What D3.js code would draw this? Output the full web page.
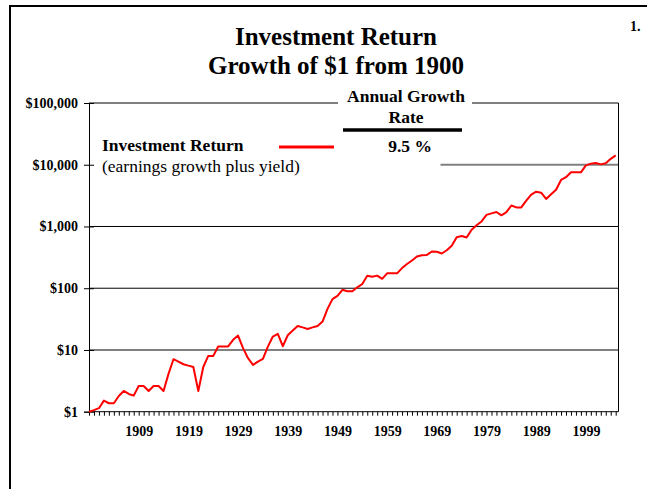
<!DOCTYPE html>
<html>
<head>
<meta charset="utf-8">
<script src="https://cdn.jsdelivr.net/npm/d3@7"></script>
<style>
  body { margin: 0; background: #fff; }
  svg { display: block; font-family: "Times New Roman", "Liberation Serif", serif; }
</style>
</head>
<body>
<svg id="chart" width="647" height="489"></svg>
<script>
// years 1899..2005, growth of $1
let years = d3.range(1899, 2006)
let values = [
  1.00, 1.06, 1.14, 1.51, 1.37, 1.37, 1.80, 2.17, 1.94, 1.82,
  2.61, 2.61, 2.17, 2.61, 2.61, 2.17, 4.1, 7.08, 6.47, 5.87,
  5.57, 5.31, 2.17, 5.3, 8.0, 8.0, 11.4, 11.4, 11.4, 14.6,
  17.1, 10.7, 7.35, 5.72, 6.47, 7.16, 11.3, 16.5, 18.2, 11.5,
  17.3, 20.6, 24.5, 23.2, 21.9, 23.2, 24.5, 28.8, 46.3, 66.5,
  75.3, 94.2, 89.1, 89.1, 103.5, 117, 159, 153, 160, 142,
  174, 174, 174, 212, 247, 281, 327, 342, 346, 393,
  389, 365, 412, 487, 670, 700, 664, 885, 1047, 1207,
  1540, 1629, 1715, 1517, 1703, 2188, 2037, 2037, 2617, 3275,
  3663, 3527, 2788, 3324, 3945, 5666, 6292, 7534, 7534, 7534,
  9747, 10420, 10690, 10140, 10570, 12470, 14200
]
let yTicks = [1, 10, 100, 1000, 10000, 100000]
let xLabels = [1909, 1919, 1929, 1939, 1949, 1959, 1969, 1979, 1989, 1999]
let seriesName = "Investment Return"
let seriesNote = "(earnings growth plus yield)"
let growthRate = "9.5 %"

let svg = d3.select("#chart")

let pLeft = 89, pRight = 618.5, pTop = 103, pBottom = 411.7

let x = d3.scalePoint()
  .domain(years)
  .range([pLeft, 615.7])

let y = d3.scaleLog()
  .domain([1, 100000])
  .range([pBottom, pTop])

// outer frame
svg.append("rect")
  .attr("x", 10).attr("y", 6)
  .attr("width", 700).attr("height", 600)
  .attr("fill", "none").attr("stroke", "#000").attr("stroke-width", 2)

svg.append("text").attr("x", 630).attr("y", 31)
  .attr("font-size", 14).attr("font-weight", "bold").text("1.")

// titles
svg.append("text").attr("x", 336).attr("y", 45).attr("text-anchor", "middle")
  .attr("font-size", 25).attr("font-weight", "bold").text("Investment Return")
svg.append("text").attr("x", 336).attr("y", 74).attr("text-anchor", "middle")
  .attr("font-size", 25).attr("font-weight", "bold").text("Growth of $1 from 1900")

// gridlines
let grid = svg.append("g")
grid.selectAll("line")
  .data([10, 100, 1000])
  .enter().append("line")
  .attr("x1", pLeft).attr("x2", pRight)
  .attr("y1", d => y(d)).attr("y2", d => y(d))
  .attr("stroke", d => d === 10 ? "#808080" : "#000")
  .attr("stroke-width", d => d === 10 ? 2 : 1)
grid.append("line")
  .attr("x1", 440.5).attr("x2", pRight)
  .attr("y1", y(10000)).attr("y2", y(10000))
  .attr("stroke", "#808080").attr("stroke-width", 2)

// top border broken by the legend header
grid.append("line").attr("x1", pLeft).attr("x2", 338).attr("y1", pTop).attr("y2", pTop).attr("stroke", "#000")
grid.append("line").attr("x1", 472).attr("x2", pRight).attr("y1", pTop).attr("y2", pTop).attr("stroke", "#000")
grid.append("line").attr("x1", pRight).attr("x2", pRight).attr("y1", pTop).attr("y2", pBottom).attr("stroke", "#000")

// y axis
let yAxis = svg.append("g")
  .attr("transform", `translate(${pLeft},0)`)
  .call(d3.axisLeft(y).tickValues(yTicks).tickSize(5).tickPadding(6).tickFormat(d3.format("$,")))
yAxis.select(".domain").attr("stroke", "#000")
yAxis.selectAll(".tick line").attr("x1", 5).attr("stroke", "#000")
yAxis.selectAll("text")
  .attr("font-size", 14).attr("font-weight", "bold")
  .attr("font-family", "'Times New Roman', 'Liberation Serif', serif")
  .attr("fill", "#000")

// x axis: year ticks
let xAxis = svg.append("g")
  .attr("transform", `translate(0,${pBottom})`)
  .call(d3.axisBottom(x).tickSize(4).tickSizeOuter(0).tickFormat(""))
xAxis.select(".domain").attr("stroke", "#000").attr("d", `M${pLeft},0H${pRight}`)
xAxis.selectAll(".tick line").attr("stroke", "#000")

let xLab = svg.append("g")
  .attr("transform", `translate(0,${pBottom})`)
  .call(d3.axisBottom(x).tickValues(xLabels).tickSize(0).tickPadding(14.5))
xLab.select(".domain").remove()
xLab.selectAll("text")
  .attr("font-size", 14).attr("font-weight", "bold")
  .attr("font-family", "'Times New Roman', 'Liberation Serif', serif")
  .attr("fill", "#000")

// data line
let line = d3.line()
  .x((d, i) => x(years[i]))
  .y(d => y(d))

svg.append("path")
  .datum(values)
  .attr("d", line)
  .attr("fill", "none")
  .attr("stroke", "#ff0000")
  .attr("stroke-width", 2)
  .attr("stroke-linejoin", "round")

// legend
let leg = svg.append("g")
leg.append("text").attr("x", 406).attr("y", 102).attr("text-anchor", "middle")
  .attr("font-size", 17.5).attr("font-weight", "bold").text("Annual Growth")
leg.append("text").attr("x", 406).attr("y", 123).attr("text-anchor", "middle")
  .attr("font-size", 17.5).attr("font-weight", "bold").text("Rate")
leg.append("line").attr("x1", 343).attr("x2", 462).attr("y1", 130).attr("y2", 130)
  .attr("stroke", "#000").attr("stroke-width", 3.5)
leg.append("text").attr("x", 410).attr("y", 152).attr("text-anchor", "middle")
  .attr("font-size", 17.5).attr("font-weight", "bold").text(growthRate)
leg.append("text").attr("x", 102).attr("y", 151).attr("font-size", 17.5)
  .attr("font-weight", "bold").text(seriesName)
leg.append("text").attr("x", 102).attr("y", 172).attr("font-size", 17.5).text(seriesNote)
leg.append("line").attr("x1", 279).attr("x2", 334).attr("y1", 147).attr("y2", 147)
  .attr("stroke", "#ff0000").attr("stroke-width", 3)
</script>
</body>
</html>
